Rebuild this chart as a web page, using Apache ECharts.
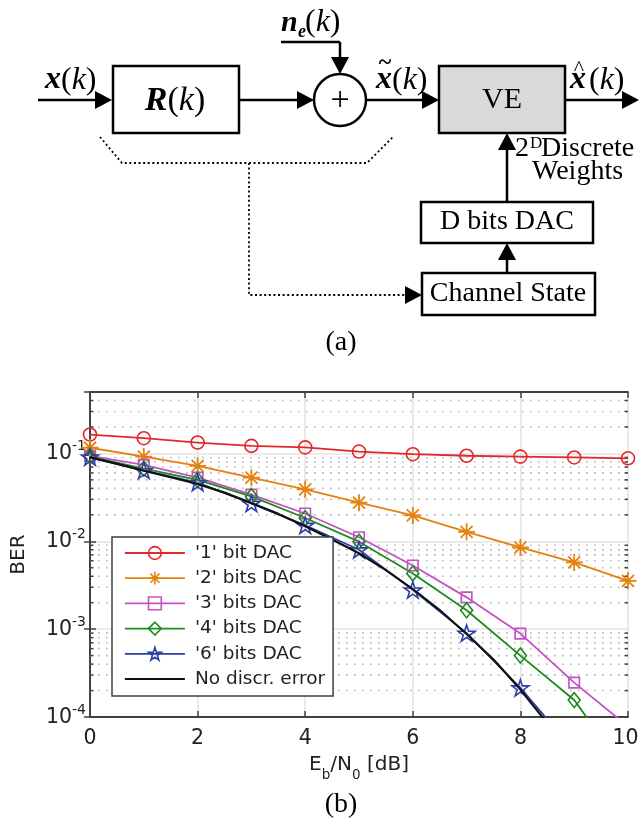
<!DOCTYPE html>
<html><head><meta charset="utf-8">
<script src="https://cdn.jsdelivr.net/npm/echarts@6/dist/echarts.min.js"></script>
<style>html,body{margin:0;padding:0;background:#fff}#c{width:639px;height:826px}</style>
</head><body><div id="c"></div>
<script>
// ---------------- data ----------------
const snr = [0, 1, 2, 3, 4, 5, 6, 7, 8, 9, 10];
const ber1bit = [0.164, 0.149, 0.133, 0.122, 0.117, 0.105, 0.098, 0.094, 0.092, 0.090, 0.088];
const ber2bits = [0.116, 0.092, 0.072, 0.053, 0.039, 0.0275, 0.0197, 0.0128, 0.0085, 0.00575, 0.00355];
const ber3bits = [0.094, 0.074, 0.053, 0.034, 0.0207, 0.0111, 0.0053, 0.0023, 0.00089, 0.000246, 0.000078];
const ber4bits = [0.092, 0.067, 0.050, 0.0325, 0.0184, 0.0099, 0.0043, 0.00164, 0.00050, 0.000156, 0.000022];
const ber6bits = [0.091, 0.064, 0.0465, 0.027, 0.0152, 0.0080, 0.0028, 0.00090, 0.000215, 0.000041];
const snrFine = [0, 0.5, 1, 1.5, 2, 2.5, 3, 3.5, 4, 4.5, 5, 5.5, 6, 6.5, 7, 7.5, 8, 8.5];
const berNoError = [0.090, 0.076, 0.0635, 0.0535, 0.0448, 0.0358, 0.0272, 0.0205, 0.0148, 0.0105, 0.0073, 0.0047, 0.00285, 0.00165, 0.00088, 0.00045, 0.000205, 0.000085];
const seriesNames = ["'1' bit DAC", "'2' bits DAC", "'3' bits DAC", "'4' bits DAC", "'6' bits DAC", "No discr. error"];
const xTickStep = 2;
const yMin = 1e-4, yMax = 0.5;
const minorMantissas = [2, 3, 4, 5, 6, 7, 8, 9];
const decades = [-4, -3, -2, -1];
const minorTicks = [];
decades.forEach(e => minorMantissas.forEach(m => { const v = m * Math.pow(10, e); if (v < yMax - 1e-9) minorTicks.push(v); }));

// ---------------- styles ----------------
const FONT = 'DejaVu Sans';
const SERIF = 'Liberation Serif';
const AX = '#404040';
const TXT = '#222';
const C = { red: '#e3282b', orange: '#e3820f', magenta: '#c451c4', green: '#1b8c1b', blue: '#2b3fa5', black: '#111111' };
const asterisk = 'path://M8,0L8,16M0,8L16,8M2.35,2.35L13.65,13.65M2.35,13.65L13.65,2.35';
const pentagram = 'path://M50,0L61.23,34.55L97.55,34.55L68.17,55.9L79.39,90.45L50,69.1L20.61,90.45L31.83,55.9L2.45,34.55L38.77,34.55Z';

function pairs(xs, ys) { return ys.map((y, i) => [xs[i], y]); }
function lineSeries(name, xs, ys, color, symbol, size, bw) {
  return {
    name, type: 'line', data: pairs(xs, ys), symbol, symbolSize: size, symbolKeepAspect: true,
    showSymbol: symbol !== 'none', clip: true, z: 3, animation: false, silent: true,
    lineStyle: { color, width: 1.8 },
    itemStyle: { color: 'rgba(0,0,0,0)', borderColor: color, borderWidth: bw || 1.6 }
  };
}

// ---------------- diagram (a) ----------------
const G = [];
function ln(x1, y1, x2, y2) { G.push({ type: 'line', silent: true, shape: { x1, y1, x2, y2 }, style: { stroke: '#000', lineWidth: 2.5 } }); }
function dotted(points) { G.push({ type: 'polyline', silent: true, shape: { points }, style: { stroke: '#000', lineWidth: 1.8, lineDash: [2, 2.6], fill: null } }); }
function arrow(tx, ty, dir) {
  let p;
  if (dir === 'r') p = [[tx - 17, ty - 9], [tx, ty], [tx - 17, ty + 9]];
  else if (dir === 'd') p = [[tx - 9, ty - 17], [tx, ty], [tx + 9, ty - 17]];
  else p = [[tx - 9, ty + 17], [tx, ty], [tx + 9, ty + 17]];
  G.push({ type: 'polygon', silent: true, shape: { points: p }, style: { fill: '#000' } });
}
function box(x, y, w, h, fill) { G.push({ type: 'rect', silent: true, shape: { x, y, width: w, height: h }, style: { fill: fill || '#fff', stroke: '#000', lineWidth: 2.5 } }); }
function txt(text, x, y, o) {
  o = o || {};
  G.push({ type: 'text', silent: true, x, y, z: 5, style: {
    text, fontFamily: SERIF, fontSize: o.fs || 28, fontStyle: o.it ? 'italic' : 'normal', fontWeight: o.bold ? 'bold' : 'normal',
    fill: '#000', align: o.align || 'left', verticalAlign: 'middle', rich: o.rich } });
}
function tb(text, x, base, o) { o = o || {}; const fs = o.fs || 28; txt(text, x, base - 0.34 * fs, o); }
const richK = (fs) => ({ p: { fontFamily: SERIF, fontSize: fs }, i: { fontFamily: SERIF, fontSize: fs, fontStyle: 'italic' }, b: { fontFamily: SERIF, fontSize: fs, fontStyle: 'italic', fontWeight: 'bold' } });

// main path
ln(38, 100, 97, 100); arrow(112, 100, 'r');
box(113, 66, 126, 67);
tb('{b|R}{p|(}{i|k}{p|)}', 175, 113, { fs: 34, align: 'center', rich: richK(34) });
ln(239, 100, 298, 100); arrow(314, 100, 'r');
G.push({ type: 'circle', silent: true, shape: { cx: 340, cy: 100, r: 26 }, style: { fill: '#fff', stroke: '#000', lineWidth: 2.5 } });
txt('+', 340, 101, { fs: 34, align: 'center' });
ln(281, 42, 340, 42); ln(340, 42, 340, 58); arrow(340, 74, 'd');
ln(366, 100, 423, 100); arrow(439, 100, 'r');
box(439, 66, 126, 67, '#d9d9d9');
txt('VE', 502, 100, { fs: 30, align: 'center' });
ln(565, 100, 623, 100); arrow(639, 100, 'r');
// labels
tb('{b|x}{p|(}{i|k}{p|)}', 45, 91, { fs: 32, rich: richK(32) });
tb('n', 281, 33, { fs: 30, it: true, bold: true });
tb('e', 298, 38, { fs: 18, it: true, bold: true });
tb('{p|(}{i|k}{p|)}', 305, 33, { fs: 32, rich: richK(32) });
tb('x', 376, 91, { fs: 32, it: true, bold: true });
txt('~', 385, 63, { fs: 24, bold: true, align: 'center' });
tb('{p|(}{i|k}{p|)}', 392, 91, { fs: 32, rich: richK(32) });
tb('x', 570, 91, { fs: 32, it: true, bold: true });
txt('^', 579, 69, { fs: 22, align: 'center' });
tb('{p|(}{i|k}{p|)}', 589, 91, { fs: 32, rich: richK(32) });
// weights branch
ln(507, 202, 507, 150); arrow(507, 133, 'u');
tb('2', 515, 158, { fs: 28 });
tb('D', 530, 149, { fs: 17 });
tb('Discrete', 541, 158, { fs: 28 });
tb('Weights', 532, 181, { fs: 28 });
box(421, 202, 172, 41);
txt('D bits DAC', 507, 222, { fs: 28, align: 'center' });
ln(507, 273, 507, 260); arrow(507, 243, 'u');
box(422, 273, 173, 42);
txt('Channel State', 508, 294, { fs: 28, align: 'center' });
dotted([[100, 137], [122, 163], [367, 163], [393, 137]]);
dotted([[249, 163], [249, 295], [405, 295]]);
arrow(422, 295, 'r');
txt('(a)', 341, 343, { fs: 28, align: 'center' });
txt('(b)', 341, 805, { fs: 28, align: 'center' });

// ---------------- chart (b) ----------------
const chart = echarts.init(document.getElementById('c'), null, { renderer: 'canvas' });
const series = [
  lineSeries(seriesNames[0], snr, ber1bit, C.red, 'circle', 13),
  lineSeries(seriesNames[1], snr, ber2bits, C.orange, asterisk, 17, 1.8),
  lineSeries(seriesNames[2], snr, ber3bits, C.magenta, 'rect', 10.5),
  Object.assign(lineSeries(seriesNames[3], snr, ber4bits, C.green, 'diamond', [12, 15]), { symbolKeepAspect: false }),
  lineSeries(seriesNames[4], snr, ber6bits, C.blue, pentagram, 17),
  {
    name: seriesNames[5], type: 'line', data: pairs(snrFine, berNoError), symbol: 'none', clip: true, z: 4,
    animation: false, silent: true, lineStyle: { color: C.black, width: 2.2 }, itemStyle: { color: C.black }
  },
  {
    name: 'minor', type: 'custom', xAxisIndex: 0, yAxisIndex: 0, z: 1, silent: true, animation: false, clip: true,
    data: minorTicks.map(v => [0, v]), encode: { x: 0, y: 1 },
    renderItem: (params, api) => {
      const y = api.coord([0, api.value(1)])[1];
      const cs = params.coordSys; const x0 = cs.x, x1 = cs.x + cs.width;
      return { type: 'group', children: [
        { type: 'line', shape: { x1: x0, y1: y, x2: x1, y2: y }, style: { stroke: '#b8b8b8', lineWidth: 1.6, lineDash: [1.6, 6.4] } },
        { type: 'line', shape: { x1: x0, y1: y, x2: x0 + 3.5, y2: y }, style: { stroke: AX, lineWidth: 1.5 } },
        { type: 'line', shape: { x1: x1 - 3.5, y1: y, x2: x1, y2: y }, style: { stroke: AX, lineWidth: 1.5 } }
      ] };
    }
  }
];

const axisLine = { show: true, lineStyle: { color: AX, width: 1.8 } };
const tick = { show: true, inside: true, length: 6, lineStyle: { color: AX, width: 1.5 } };
const yLabelFmt = v => {
  const e = Math.log10(v); const r = Math.round(e);
  if (Math.abs(e - r) > 1e-6) return '';
  return '{b|10}{s|' + r + '}';
};
const AFS = 20.5;

chart.setOption({
  backgroundColor: '#fff',
  animation: false,
  graphic: { elements: G },
  grid: { left: 90, right: 11, top: 392, bottom: 109, containLabel: false, outerBoundsMode: 'none' },
  legend: {
    orient: 'vertical', left: 112, top: 537, selectedMode: false, z: 10,
    data: seriesNames.slice(0, 5).concat([{ name: seriesNames[5], icon: 'path://M0,0H60V2.2H0Z' }]),
    itemWidth: 60, itemHeight: 16, itemGap: 5.2, symbolKeepAspect: true,
    padding: [6, 8, 7, 12], backgroundColor: '#fff', borderColor: AX, borderWidth: 1.5, borderRadius: 0,
    itemStyle: { borderWidth: 1.6 }, lineStyle: { width: 1.8 },
    textStyle: { fontFamily: FONT, fontSize: 18.5, color: TXT, lineHeight: 20, padding: [0, 0, 0, 5] }
  },
  xAxis: [
    {
      type: 'value', min: 0, max: 10, interval: xTickStep, position: 'bottom',
      axisLine, axisTick: tick,
      axisLabel: {
        fontFamily: FONT, fontSize: AFS, color: TXT, margin: 11,
        formatter: v => (v === 10 ? '{r|10}' : String(v)),
        rich: { r: { fontFamily: FONT, fontSize: AFS, color: TXT, padding: [0, 5, 0, 0] } }
      },
      splitLine: { show: true, lineStyle: { color: '#e4e4e4', width: 1.6 } },
      name: '{m|E}{s|b}{m|/N}{s|0}{m| [dB]}', nameLocation: 'middle', nameGap: 38,
      nameTextStyle: { rich: {
        m: { fontFamily: FONT, fontSize: 20, color: TXT, lineHeight: 22, verticalAlign: 'top' },
        s: { fontFamily: FONT, fontSize: 13.5, color: TXT, lineHeight: 14, padding: [13, 0, 0, 0], verticalAlign: 'top' }
      } }
    },
    {
      type: 'value', min: 0, max: 10, interval: xTickStep, position: 'top',
      axisLine, axisTick: tick, axisLabel: { show: false }, splitLine: { show: false }
    }
  ],
  yAxis: [
    {
      type: 'log', logBase: 10, min: yMin, max: yMax, position: 'left',
      axisLine, axisTick: tick,
      axisLabel: { formatter: yLabelFmt, margin: 4, rich: {
        b: { fontFamily: FONT, fontSize: AFS, color: TXT, lineHeight: 22, verticalAlign: 'bottom' },
        s: { fontFamily: FONT, fontSize: 14, color: TXT, lineHeight: 15, padding: [0, 0, 11, 0], verticalAlign: 'bottom' }
      } },
      splitLine: { show: true, lineStyle: { color: '#e4e4e4', width: 1.6 } },
      name: 'BER', nameLocation: 'middle', nameRotate: 90, nameGap: 61,
      nameTextStyle: { fontFamily: FONT, fontSize: 20, color: TXT }
    },
    {
      type: 'log', logBase: 10, min: yMin, max: yMax, position: 'right',
      axisLine, axisTick: tick, axisLabel: { show: false }, splitLine: { show: false }
    }
  ],
  series
});
</script>
</body></html>
